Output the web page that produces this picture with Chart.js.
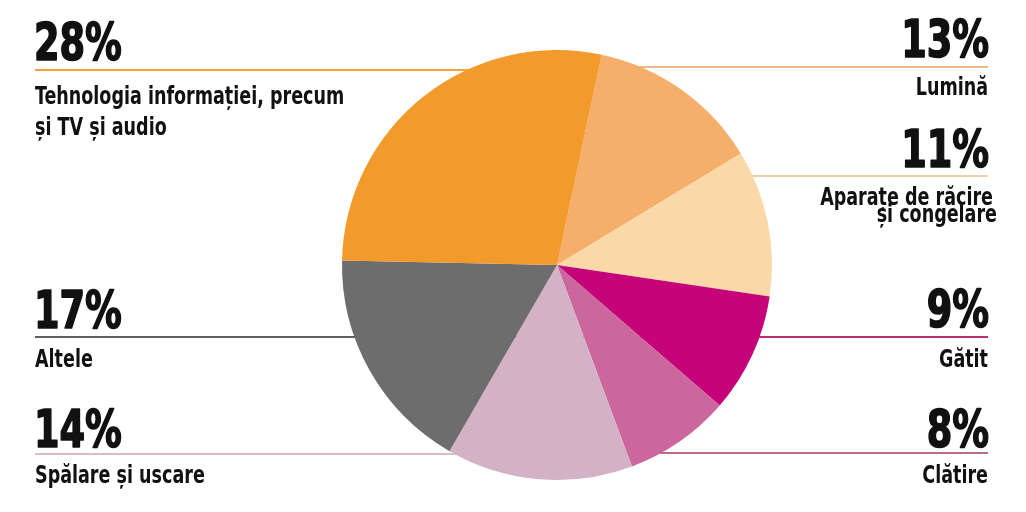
<!DOCTYPE html>
<html>
<head>
<meta charset="utf-8">
<script src="https://cdn.jsdelivr.net/npm/chart.js@4"></script>
<style>
  html, body { margin: 0; padding: 0; background: #fff; }
  #wrap { width: 1026px; height: 512px; }
</style>
</head>
<body>
<div id="wrap"><canvas id="pie"></canvas></div>
<script>
// slices, clockwise from just right of the top
const categories = ['Lumină', 'Aparațe de răcire\nși congelare', 'Gătit', 'Clătire', 'Spălare și uscare', 'Altele', 'Tehnologia informației, precum\nși TV și audio'];
const shares = [13, 11, 9, 8, 14, 17, 28];
const sliceColors = ['#F6AF6A', '#FAD8A8', '#C6047A', '#CB679D', '#D4B2C6', '#6D6D6D', '#F39A2C'];
const lineColors = ['#E9B98A', '#F0D3AC', '#B8306F', '#B96A93', '#D9BCCB', '#5E5E5E', '#F0A244'];

// where each callout sits (same order as categories)
const callouts = [
  { side: 'right', num: 57, line: 67, text: [95] },
  { side: 'right', num: 167, line: 176, text: [205, 222] },
  { side: 'right', num: 327, line: 337, text: [367] },
  { side: 'right', num: 447, line: 453, text: [483] },
  { side: 'left', num: 447, line: 454, text: [483] },
  { side: 'left', num: 328, line: 337, text: [367] },
  { side: 'left', num: 60, line: 70, text: [104, 135] }
];

const FONT = '"DejaVu Sans Condensed", "DejaVu Sans", sans-serif';

// no narrow font installed, so squeeze the condensed one a bit more
function squeezed(ctx, text, x, y, sx, heavy) {
  ctx.save();
  ctx.translate(x, y);
  ctx.scale(sx, 1);
  ctx.fillText(text, 0, 0);
  if (heavy) {
    ctx.lineWidth = heavy;
    ctx.strokeText(text, 0, 0);
  }
  ctx.restore();
}

const calloutLines = {
  id: 'calloutLines',
  beforeDatasetsDraw(chart) {
    const ctx = chart.ctx;
    const arc = chart.getDatasetMeta(0).data[0];
    ctx.save();
    ctx.lineWidth = 2;
    callouts.forEach((c, i) => {
      ctx.strokeStyle = lineColors[i];
      ctx.beginPath();
      ctx.moveTo(c.side === 'left' ? 35 : 988, c.line);
      ctx.lineTo(arc.x, c.line);
      ctx.stroke();
    });
    ctx.restore();
  },
  afterDatasetsDraw(chart) {
    const ctx = chart.ctx;
    ctx.save();
    ctx.fillStyle = '#111';
    ctx.strokeStyle = '#111';
    ctx.lineJoin = 'round';
    ctx.textBaseline = 'alphabetic';
    callouts.forEach((c, i) => {
      const left = c.side === 'left';
      ctx.textAlign = left ? 'left' : 'right';
      ctx.font = 'bold 51px ' + FONT;
      squeezed(ctx, shares[i] + '%', left ? 34 : 989, c.num, 0.8, 1.6);
      ctx.font = 'bold 25px ' + FONT;
      const parts = categories[i].split('\n');
      parts.forEach((t, k) => {
        let x = left ? 35 : 988;
        if (!left && parts.length > 1) x = k === 0 ? 993 : 997;
        squeezed(ctx, t, x, c.text[k], 0.78, 0);
      });
    });
    ctx.restore();
  }
};

new Chart(document.getElementById('pie'), {
  type: 'pie',
  data: {
    labels: categories,
    datasets: [{
      data: shares,
      backgroundColor: sliceColors,
      borderWidth: 0
    }]
  },
  options: {
    responsive: true,
    maintainAspectRatio: false,
    animation: false,
    rotation: 12,
    layout: { padding: { left: 88, right: 0, top: 50, bottom: 32 } },
    plugins: {
      legend: { display: false },
      tooltip: { enabled: false }
    }
  },
  plugins: [calloutLines]
});
</script>
</body>
</html>
